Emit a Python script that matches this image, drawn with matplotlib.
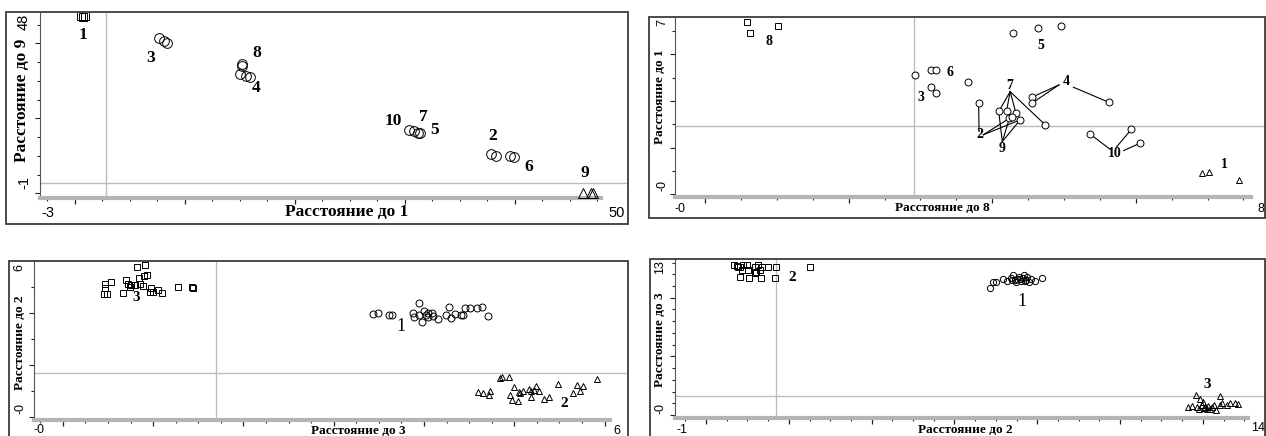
import matplotlib
matplotlib.use("Agg")
import matplotlib.pyplot as plt
from matplotlib.patches import Rectangle
import numpy as np

W, H = 1266, 436

# ---- panel 1: Расстояние до 1 / Расстояние до 9
p1_sq_x = [0.55, 0.75, 0.9]
p1_sq_y = [47.2, 47.0, 47.3]
p1_ci_x = [7.7, 8.1, 8.4, 15.2, 15.25, 15.0, 15.6, 15.9, 30.4, 30.8, 31.2, 31.4, 37.8, 38.3, 39.6, 39.9]
p1_ci_y = [41.3, 40.7, 40.0, 34.6, 34.0, 31.8, 31.2, 31.0, 16.9, 16.6, 16.2, 16.0, 10.5, 10.0, 10.0, 9.8]
p1_tr_x = [46.2, 46.9, 47.1]
p1_tr_y = [0.2, 0.2, 0.0]
p1_lab = ["1", "3", "8", "4", "10", "7", "5", "2", "6", "9"]
p1_lab_x = [0.75, 6.9, 16.6, 16.5, 29.0, 31.7, 32.7, 38.0, 41.3, 46.4]
p1_lab_y = [42.2, 36.2, 37.3, 28.2, 19.4, 20.3, 16.8, 15.4, 6.9, 5.3]

# ---- panel 2: Расстояние до 8 / Расстояние до 1
p2_sq_x = [0.59, 0.63, 1.01]
p2_sq_y = [7.4, 6.9, 7.23]
p2_ci_x = [4.29, 4.64, 4.96, 2.92, 3.15, 3.22, 3.15, 3.22, 3.66, 3.81, 4.09, 4.2, 4.33,
           4.24, 4.39, 4.27, 4.55, 4.55, 4.74, 5.62, 5.36, 5.94, 6.06]
p2_ci_y = [6.9, 7.14, 7.23, 5.12, 5.33, 5.33, 4.59, 4.36, 4.83, 3.9, 3.55, 3.59, 3.48,
           3.26, 3.19, 3.33, 4.16, 3.9, 2.97, 3.95, 2.59, 2.79, 2.19]
p2_tr_x = [6.92, 7.02, 7.44]
p2_tr_y = [0.9, 0.94, 0.61]
p2_lab = ["8", "5", "6", "3", "7", "4", "2", "9", "10", "1"]
p2_lab_x = [0.89, 4.68, 3.41, 3.0, 4.24, 5.03, 3.83, 4.14, 5.71, 7.24]
p2_lab_y = [6.54, 6.4, 5.22, 4.16, 4.65, 4.83, 2.55, 1.97, 1.76, 1.29]
# leader lines: label end -> point
p2_seg_x0 = [3.816, 3.876, 3.876, 4.25, 4.25, 4.25, 4.25, 4.14, 4.14, 4.14, 4.93, 4.93, 5.13, 5.64, 5.73, 5.83]
p2_seg_y0 = [2.69, 2.55, 2.55, 4.40, 4.40, 4.40, 4.40, 2.26, 2.26, 2.26, 4.69, 4.69, 4.59, 1.93, 2.02, 1.87]
p2_seg_x1 = [3.81, 4.24, 4.39, 4.09, 4.2, 4.33, 4.74, 4.09, 4.24, 4.39, 4.55, 4.55, 5.62, 5.36, 5.94, 6.06]
p2_seg_y1 = [3.9, 3.26, 3.19, 3.55, 3.59, 3.48, 2.97, 3.55, 3.26, 3.19, 4.16, 3.9, 3.95, 2.59, 2.79, 2.19]

# ---- panel 3: Расстояние до 3 / Расстояние до 2
p3_sq_x = [0.82, 0.91, 0.93, 0.90, 0.84, 0.53, 0.47, 0.47, 0.45, 0.49, 0.67, 0.70, 0.72,
           0.76, 0.80, 0.74, 0.85, 0.89, 0.98, 0.97, 1.00, 1.05, 1.10, 1.27, 1.43, 1.44]
p3_sq_y = [5.77, 5.85, 5.46, 5.42, 5.35, 5.19, 5.12, 4.96, 4.73, 4.73, 4.77, 5.27, 5.12,
           5.08, 5.08, 5.00, 5.12, 5.04, 4.96, 4.81, 4.81, 4.88, 4.77, 5.00, 5.00, 4.98]
p3_ci_x = [3.44, 3.49, 3.61, 3.65, 3.88, 3.89, 3.94, 4.00, 3.98, 4.02, 4.05, 4.10, 4.15, 4.24,
           4.28, 4.30, 4.34, 4.43, 4.45, 4.51, 4.59, 4.64, 4.71, 3.94, 4.09, 4.04, 4.41]
p3_ci_y = [3.96, 4.00, 3.92, 3.92, 4.00, 3.85, 4.38, 4.08, 3.65, 3.92, 4.00, 3.88, 3.77, 3.92,
           4.23, 3.81, 3.96, 3.92, 4.19, 4.19, 4.19, 4.23, 3.88, 3.92, 4.00, 3.85, 3.92]
p3_tr_x = [4.86, 4.94, 4.84, 4.60, 4.65, 4.73, 4.72, 4.95, 5.00, 4.98, 5.04, 5.06, 5.10, 5.16,
           5.18, 5.22, 5.24, 5.27, 5.33, 5.38, 5.48, 5.65, 5.70, 5.73, 5.76, 5.92, 5.05, 5.19]
p3_tr_y = [1.54, 1.54, 1.50, 0.96, 0.92, 1.00, 0.85, 0.85, 1.15, 0.65, 0.62, 0.92, 1.00, 1.08,
           0.77, 1.04, 1.19, 1.00, 0.69, 0.77, 1.27, 0.92, 1.23, 1.00, 1.19, 1.46, 0.96, 1.00]
p3_lab = ["3", "1", "2"]
p3_lab_x = [0.81, 3.74, 5.55]
p3_lab_y = [4.58, 3.46, 0.50]

# ---- panel 4: Расстояние до 2 / Расстояние до 3
p4_sq_x = [0.68, 0.78, 0.82, 0.86, 0.74, 0.90, 0.82, 1.02, 1.04, 1.18, 1.21, 1.26, 1.30,
           1.35, 1.33, 1.18, 1.50, 1.69, 1.67, 2.51, 0.99]
p4_sq_y = [12.8, 12.6, 12.6, 12.4, 12.7, 12.8, 11.8, 12.4, 11.7, 12.6, 12.2, 12.8, 12.4,
           12.6, 11.7, 12.1, 12.6, 12.6, 11.7, 12.6, 12.8]
p4_ci_x = [6.86, 6.93, 7.00, 7.17, 7.27, 7.37, 7.42, 7.46, 7.51, 7.56, 7.61, 7.66, 7.68,
           7.73, 7.75, 7.80, 7.85, 7.95, 8.12, 7.39, 7.49, 7.58, 7.70]
p4_ci_y = [10.8, 11.3, 11.3, 11.6, 11.4, 11.7, 11.9, 11.5, 11.6, 11.8, 11.4, 11.7, 11.9,
           11.5, 11.8, 11.3, 11.6, 11.4, 11.7, 11.5, 11.3, 11.6, 11.4]
p4_tr_x = [11.84, 11.93, 12.42, 11.64, 11.74, 11.86, 11.98, 12.05, 12.13, 12.22, 12.32, 12.03,
           12.18, 12.46, 12.58, 12.66, 12.78, 12.85, 12.42, 11.90, 12.00, 12.10, 12.27]
p4_tr_y = [1.71, 1.37, 1.62, 0.68, 0.77, 0.68, 0.85, 0.68, 0.77, 0.68, 0.43, 0.60,
           0.50, 1.03, 0.85, 1.03, 1.03, 0.94, 0.85, 0.55, 1.10, 0.55, 0.85]
p4_lab = ["2", "1", "3"]
p4_lab_x = [2.08, 7.63, 12.10]
p4_lab_y = [11.7, 9.7, 2.56]

SERIF = ["Liberation Serif", "DejaVu Serif"]
SANS = ["Liberation Sans", "DejaVu Sans"]


def fx(x):
    return x / W


def fy(y):
    return 1 - y / H


fig = plt.figure(figsize=(W / 100, H / 100), dpi=100)


def panel(frame, box, xlim, ylim, xmaj, xmin, ymaj, ymin, bar_end, vref, href,
          xt, yt, xlab, ylab, tfs, lfs):
    x0, y0, x1, y1 = frame
    fig.patches.append(Rectangle((fx(x0), fy(y1)), (x1 - x0) / W, (y1 - y0) / H,
                                 transform=fig.transFigure, fill=False,
                                 ec="#3c3c3c", lw=1.3, zorder=5))
    l, t, r, b = box
    ax = fig.add_axes([fx(l), fy(b), (r - l) / W, (b - t) / H])
    ax.set_xlim(*xlim)
    ax.set_ylim(*ylim)
    ax.patch.set_alpha(0)
    for s in ["top", "right"]:
        ax.spines[s].set_visible(False)
    ax.spines["bottom"].set_color("#b4b4b4")
    ax.spines["bottom"].set_linewidth(3)
    ax.spines["bottom"].set_bounds(xlim[0], bar_end)
    ax.spines["left"].set_color("#555555")
    ax.spines["left"].set_linewidth(0.8)
    ax.set_xticks(xmaj)
    ax.set_xticks(xmin, minor=True)
    ax.set_yticks(ymaj)
    ax.set_yticks(ymin, minor=True)
    ax.tick_params(axis="x", which="major", length=4.5, width=0.9, color="#222222",
                   labelbottom=False)
    ax.tick_params(axis="x", which="minor", length=2.5, width=0.8, color="#222222")
    ax.tick_params(axis="y", which="major", length=3.5, width=0.8, color="#222222",
                   labelleft=False)
    ax.tick_params(axis="y", which="minor", length=2, width=0.8, color="#222222")
    ax.axvline(vref, color="#bdbdbd", lw=1, zorder=0)
    ax.axhline(href, color="#bdbdbd", lw=1, zorder=0)
    # end labels and axis titles
    (ax0, ay), (bx0, by), (cx, cy) = xt
    fig.text(fx(ax0), fy(ay), xlab[0], ha="center", va="center", fontsize=tfs, family=SANS)
    fig.text(fx(bx0), fy(by), xlab[1], ha="center", va="center", fontsize=tfs, family=SANS)
    fig.text(fx(cx), fy(cy), xlab[2], ha="center", va="center", fontsize=lfs,
             family=SERIF, fontweight="bold")
    (ax0, ay), (bx0, by), (cx, cy) = yt
    fig.text(fx(ax0), fy(ay), ylab[0], ha="center", va="center", fontsize=tfs,
             family=SANS, rotation=90)
    fig.text(fx(bx0), fy(by), ylab[1], ha="center", va="center", fontsize=tfs,
             family=SANS, rotation=90)
    fig.text(fx(cx), fy(cy), ylab[2], ha="center", va="center", fontsize=lfs,
             family=SERIF, fontweight="bold", rotation=90)
    return ax


def pts(ax, x, y, marker, ms, fc="none"):
    ax.plot(x, y, linestyle="none", marker=marker, ms=ms, mfc=fc, mec="black",
            mew=0.7, zorder=3)


def labels(ax, labs, xs, ys, fs, weights=None, sizes=None):
    for i, (s, x, y) in enumerate(zip(labs, xs, ys)):
        w = "bold" if weights is None else weights[i]
        f = fs if sizes is None else sizes[i]
        ax.text(x, y, s, ha="center", va="center", fontsize=f, family=SERIF,
                fontweight=w, zorder=4)


# panel 1
ax1 = panel((6, 12, 628, 224), (40, 13, 627, 198), (-3.15, 50.2), (-1.25, 48.1),
            np.arange(0, 41, 10), np.arange(-2.5, 48, 2.5), np.arange(0, 41, 20),
            np.arange(0, 48, 5), 47.8, 2.83, 2.76,
            ((48, 213), (617, 213), (347, 212)), ((24, 22), (24, 182), (22, 100)),
            ("-3", "50", "Расстояние до 1"), ("48", "-1", "Расстояние до 9"), 10.5, 12.5)
pts(ax1, p1_sq_x, p1_sq_y, "s", 6)
pts(ax1, p1_ci_x, p1_ci_y, "o", 7)
pts(ax1, p1_tr_x, p1_tr_y, "^", 6.5)
labels(ax1, p1_lab, p1_lab_x, p1_lab_y, 12.5)

# panel 2
ax2 = panel((649, 17, 1265, 218), (675, 18, 1265, 197), (-0.42, 7.8), (-0.12, 7.56),
            np.arange(0, 7, 2), np.arange(0.5, 7.6, 0.5), np.arange(0, 7, 2),
            np.arange(1, 7.6, 1), 7.6, 2.91, 2.94,
            ((680, 209), (1261, 209), (942, 208)), ((662, 23), (662, 185), (660, 97)),
            ("-0", "8", "Расстояние до 8"), ("7", "-0", "Расстояние до 1"), 9, 9.5)
for i in range(len(p2_seg_x0)):
    ax2.plot([p2_seg_x0[i], p2_seg_x1[i]], [p2_seg_y0[i], p2_seg_y1[i]],
             color="black", lw=0.8, zorder=2)
pts(ax2, p2_sq_x, p2_sq_y, "s", 5, "white")
pts(ax2, p2_ci_x, p2_ci_y, "o", 5, "white")
pts(ax2, p2_tr_x, p2_tr_y, "^", 5, "white")
labels(ax2, p2_lab, p2_lab_x, p2_lab_y, 10)

# panel 3
ax3 = panel((9, 261, 628, 440), (34, 261, 628, 420), (-0.32, 6.26), (-0.12, 6.0),
            np.arange(0, 6.1, 1), np.arange(-0.25, 6.1, 0.25), np.arange(0, 5, 2),
            np.arange(1, 6, 1), 6.06, 1.70, 1.69,
            ((39, 430), (617, 431), (358, 431)), ((19, 267), (20, 408), (20, 343)),
            ("-0", "6", "Расстояние до 3"), ("6", "-0", "Расстояние до 2"), 9, 9.5)
pts(ax3, p3_sq_x, p3_sq_y, "s", 5)
pts(ax3, p3_ci_x, p3_ci_y, "o", 5)
pts(ax3, p3_tr_x, p3_tr_y, "^", 5)
labels(ax3, p3_lab, p3_lab_x, p3_lab_y, 11, ["bold", "normal", "bold"], [11, 13, 11])

# panel 4
ax4 = panel((650, 259, 1265, 440), (675, 259, 1265, 418), (-0.75, 13.5), (-0.26, 13.3),
            np.arange(0, 13, 2), np.arange(-0.5, 13.1, 0.5), np.arange(0, 11, 5),
            np.arange(1, 13.3, 1), 13.1, 1.69, 1.62,
            ((682, 430), (1258, 428), (965, 430)), ((660, 267), (660, 408), (660, 340)),
            ("-1", "14", "Расстояние до 2"), ("13", "-0", "Расстояние до 3"), 9, 9.5)
pts(ax4, p4_sq_x, p4_sq_y, "s", 5)
pts(ax4, p4_ci_x, p4_ci_y, "o", 4.5)
pts(ax4, p4_tr_x, p4_tr_y, "^", 4.5)
labels(ax4, p4_lab, p4_lab_x, p4_lab_y, 11, ["bold", "normal", "bold"], [11, 13, 11])

fig.savefig("out.png", dpi=100)
